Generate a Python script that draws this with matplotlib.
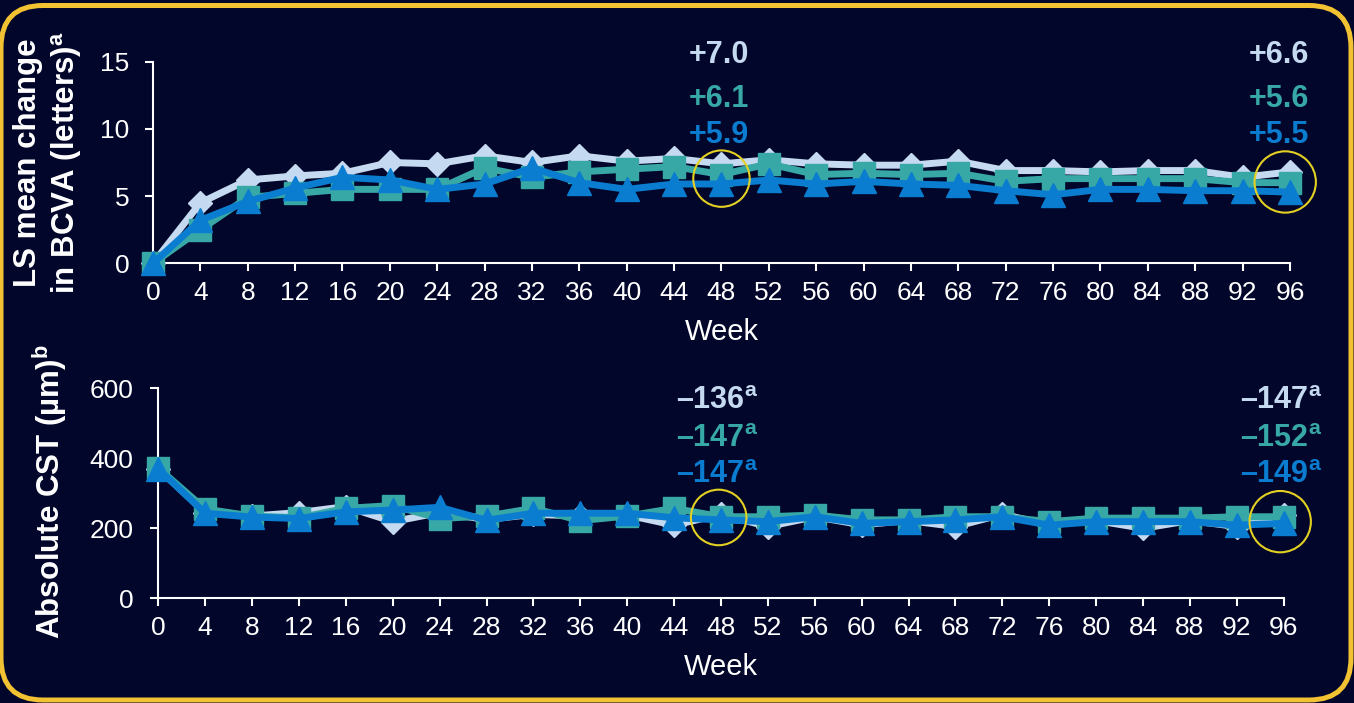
import matplotlib.pyplot as plt
from matplotlib.patches import FancyBboxPatch
from matplotlib.transforms import IdentityTransform

plt.rcParams['font.family'] = ['Liberation Sans', 'DejaVu Sans']
plt.rcParams['mathtext.fontset'] = 'custom'
plt.rcParams['mathtext.rm'] = 'Liberation Sans'
plt.rcParams['mathtext.bf'] = 'Liberation Sans:bold'

# data
weeks = list(range(0, 97, 4))

bcva_light = [0, 4.5, 6.2, 6.5, 6.7, 7.5, 7.4, 8.0, 7.5, 8.0, 7.6, 7.8, 7.4,
              7.7, 7.4, 7.3, 7.3, 7.6, 6.9, 6.9, 6.8, 6.9, 6.9, 6.4, 6.8]
bcva_teal = [0, 2.5, 4.9, 5.2, 5.5, 5.5, 5.5, 7.1, 6.4, 6.8, 7.0, 7.2, 6.6,
             7.4, 6.6, 6.7, 6.6, 6.7, 6.1, 6.3, 6.3, 6.3, 6.3, 6.0, 6.0]
bcva_blue = [0, 3.2, 4.6, 5.6, 6.4, 6.2, 5.5, 5.9, 7.1, 6.0, 5.5, 5.9, 5.9,
             6.2, 5.9, 6.1, 5.9, 5.8, 5.4, 5.1, 5.5, 5.5, 5.4, 5.4, 5.3]

cst_light = [370, 245, 235, 245, 262, 219, 245, 225, 240, 235, 238, 209, 240,
             205, 233, 210, 222, 205, 240, 210, 222, 200, 222, 205, 238]
cst_teal = [372, 255, 235, 230, 257, 265, 228, 235, 257, 222, 235, 257, 233,
            233, 238, 224, 224, 233, 233, 219, 229, 229, 229, 233, 233]
cst_blue = [370, 243, 232, 228, 247, 252, 260, 223, 243, 243, 243, 230, 224,
            219, 233, 214, 219, 224, 233, 209, 219, 219, 219, 209, 214]

bcva_notes_48 = ['+7.0', '+6.1', '+5.9']
bcva_notes_96 = ['+6.6', '+5.6', '+5.5']
cst_notes_48 = ['\u2013136', '\u2013147', '\u2013147']
cst_notes_96 = ['\u2013147', '\u2013152', '\u2013149']

bg = '#01062a'
c_light = '#c5daf0'
c_teal = '#37a8a6'
c_blue = '#0a7dd0'
c_ring = '#e3d023'
c_frame = '#f2c232'
colors = [c_light, c_teal, c_blue]

fig = plt.figure(figsize=(13.54, 7.03), dpi=100, facecolor=bg)

frame = FancyBboxPatch((1, 3), 1350, 694.5, boxstyle='round,pad=0,rounding_size=42',
                       transform=IdentityTransform(), fc='none', ec=c_frame, lw=3.6)
fig.add_artist(frame)

ax1 = fig.add_axes([0.1130, 0.6255, 0.8397, 0.2867])
ax2 = fig.add_axes([0.1169, 0.1489, 0.8312, 0.2988])


def style(ax, ylim, yticks, ypad):
    ax.set_facecolor('none')
    ax.spines['top'].set_visible(False)
    ax.spines['right'].set_visible(False)
    for s in ['left', 'bottom']:
        ax.spines[s].set_color('white')
        ax.spines[s].set_linewidth(1.5)
    ax.set_xlim(0, 96)
    ax.set_xticks(weeks)
    ax.set_ylim(*ylim)
    ax.set_yticks(yticks)
    ax.tick_params(colors='white', labelsize=19, length=6, width=1.5)
    ax.tick_params(axis='y', pad=ypad)
    ax.tick_params(axis='x', pad=7)
    ax.set_xlabel('Week', color='white', fontsize=21, labelpad=9)


style(ax1, (0, 15), [0, 5, 10, 15], 11)
style(ax2, (0, 600), [0, 200, 400, 600], 12)

markers = [('D', 12), ('s', 16.5), ('^', 17)]

for i, ys in enumerate([bcva_light, bcva_teal, bcva_blue]):
    m, ms = markers[i]
    ax1.plot(weeks, ys, color=colors[i], lw=5, marker=m, ms=ms, mec=colors[i],
             mew=1, clip_on=False, zorder=3 + i)

for i, ys in enumerate([cst_light, cst_teal, cst_blue]):
    m, ms = markers[i]
    ax2.plot(weeks, ys, color=colors[i], lw=5, marker=m, ms=ms, mec=colors[i],
             mew=1, clip_on=False, zorder=3 + i)

# yellow rings
ax1.scatter([48, 95.6], [6.3, 6.05], s=[1650, 1950], facecolors='none',
            edgecolors=c_ring, linewidths=1.5, clip_on=False, zorder=10)
ax2.scatter([47.8, 95.7], [231, 219], s=[1600, 1950], facecolors='none',
            edgecolors=c_ring, linewidths=1.5, clip_on=False, zorder=10)

# value notes
for i in range(3):
    yb = [14.9, 11.65, 8.95][i]
    ax1.text(47.8, yb, bcva_notes_48[i], color=colors[i], fontsize=22,
             fontweight='bold', ha='center', va='baseline', clip_on=False)
    ax1.text(95.1, yb, bcva_notes_96[i], color=colors[i], fontsize=22,
             fontweight='bold', ha='center', va='baseline', clip_on=False)
    yc = [540, 431, 329][i]
    ax2.text(47.7, yc, cst_notes_48[i] + r'$^{\mathregular{a}}$', color=colors[i],
             fontsize=22, fontweight='bold', ha='center', va='baseline', clip_on=False)
    ax2.text(95.8, yc, cst_notes_96[i] + r'$^{\mathregular{a}}$', color=colors[i],
             fontsize=22, fontweight='bold', ha='center', va='baseline', clip_on=False)

ax1.set_ylabel('LS mean change\nin BCVA (letters)$^{\\mathregular{a}}$', color='white',
               fontsize=22.5, fontweight='bold')
ax1.yaxis.set_label_coords(-0.061, 0.5)
ax2.set_ylabel('Absolute CST (\u00b5m)$^{\\mathregular{b}}$', color='white',
               fontsize=22.5, fontweight='bold')
ax2.yaxis.set_label_coords(-0.079, 0.51)

fig.savefig('out.png', dpi=100, facecolor=bg)
